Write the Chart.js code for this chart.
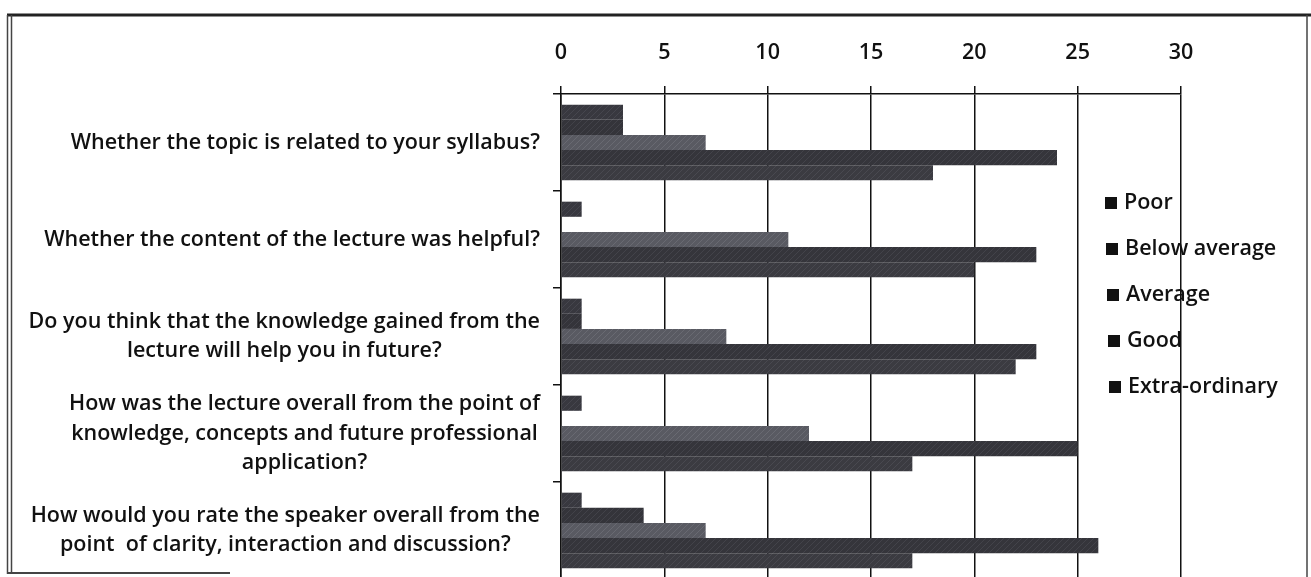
<!DOCTYPE html>
<html><head><meta charset="utf-8">
<script src="https://cdn.jsdelivr.net/npm/chart.js@4"></script>
<style>
html,body{margin:0;padding:0;background:#fff;overflow:hidden;width:1311px;height:577px}
#wrap{position:relative;width:1311px;height:586px}
</style></head>
<body><div id="wrap"><canvas id="c"></canvas></div>
<script>
// ---- data ----
const categories = [
  ['Whether the topic is related to your syllabus?'],
  ['Whether the content of the lecture was helpful?'],
  ['Do you think that the knowledge gained from the', 'lecture will help you in future?'],
  ['How was the lecture overall from the point of', 'knowledge, concepts and future professional', 'application?'],
  ['How would you rate the speaker overall from the', 'point  of clarity, interaction and discussion?']
];
const seriesNames = ['Poor', 'Below average', 'Average', 'Good', 'Extra-ordinary'];
const poor          = [3, 1, 1, 1, 1];
const belowAverage  = [3, 0, 1, 0, 4];
const average       = [7, 11, 8, 12, 7];
const good          = [24, 23, 23, 25, 26];
const extraOrdinary = [18, 20, 22, 17, 17];
const xTicks = [0, 5, 10, 15, 20, 25, 30];

const FONT = "'Open Sans', 'Lato', sans-serif";
const WEIGHT = '600';
const FSIZE = 21.5;

function hatch(base, stripe) {
  const c = document.createElement('canvas');
  c.width = 6; c.height = 6;
  const g = c.getContext('2d');
  g.fillStyle = base; g.fillRect(0, 0, 6, 6);
  g.strokeStyle = stripe; g.lineWidth = 1;
  g.beginPath();
  g.moveTo(0, 6); g.lineTo(6, 0);
  g.moveTo(-3, 3); g.lineTo(3, -3);
  g.moveTo(3, 9); g.lineTo(9, 3);
  g.stroke();
  return g.createPattern(c, 'repeat');
}

const fills = [
  hatch('#38383f', '#46464e'),
  hatch('#34343a', '#424249'),
  hatch('#595a62', '#696a72'),
  hatch('#35353b', '#43434a'),
  hatch('#3b3b41', '#494950')
];
const values = [poor, belowAverage, average, good, extraOrdinary];

const frame = {
  id: 'frame',
  afterDraw(chart) {
    const ctx = chart.ctx;
    ctx.save();
    ctx.strokeStyle = '#222';
    ctx.lineWidth = 3;
    ctx.beginPath(); ctx.moveTo(7, 15); ctx.lineTo(1311, 15); ctx.stroke();
    ctx.lineWidth = 1.5;
    ctx.strokeStyle = '#444';
    ctx.beginPath(); ctx.moveTo(7.5, 15); ctx.lineTo(7.5, 574); ctx.stroke();
    ctx.beginPath(); ctx.moveTo(11.5, 15); ctx.lineTo(11.5, 572); ctx.stroke();
    ctx.beginPath(); ctx.moveTo(1307, 15); ctx.lineTo(1307, 577); ctx.stroke();
    ctx.lineWidth = 2;
    ctx.beginPath(); ctx.moveTo(7, 573); ctx.lineTo(230, 573); ctx.stroke();
    ctx.restore();
  }
};

const catLabels = {
  id: 'catLabels',
  afterDraw(chart) {
    const ctx = chart.ctx;
    const ys = chart.scales.y;
    ctx.save();
    ctx.font = WEIGHT + ' ' + FSIZE + 'px ' + FONT;
    ctx.fillStyle = '#111';
    ctx.textAlign = 'center';
    ctx.textBaseline = 'middle';
    const lh = 29.5;
    chart.data.labels.forEach((lines, i) => {
      const y = ys.getPixelForValue(i);
      const w = Math.max(...lines.map(l => ctx.measureText(l).width));
      const cx = 540 - w / 2;
      lines.forEach((l, j) => {
        ctx.fillText(l, cx, y + (j - (lines.length - 1) / 2) * lh);
      });
    });
    ctx.restore();
  }
};

const legendPlugin = {
  id: 'sideLegend',
  afterDraw(chart) {
    const ctx = chart.ctx;
    ctx.save();
    ctx.font = WEIGHT + ' ' + FSIZE + 'px ' + FONT;
    ctx.textBaseline = 'middle';
    ctx.textAlign = 'left';
    chart.data.datasets.forEach((ds, i) => {
      const y = 203 + i * 46;
      const x = 1105 + i * 1;
      ctx.fillStyle = '#111';
      ctx.fillRect(x, y - 6, 12, 12);
      ctx.fillText(ds.label, x + 19, y);
    });
    ctx.restore();
  }
};

new Chart(document.getElementById('c'), {
  type: 'bar',
  data: {
    labels: categories,
    datasets: seriesNames.map((n, i) => ({
      label: n,
      data: values[i],
      backgroundColor: fills[i],
      borderWidth: 0,
      categoryPercentage: 0.78,
      barPercentage: 1
    }))
  },
  options: {
    indexAxis: 'y',
    responsive: true,
    maintainAspectRatio: false,
    animation: false,
    devicePixelRatio: 1,
    layout: { padding: { top: 0, right: 130, bottom: 7, left: 0 } },
    plugins: { legend: { display: false }, tooltip: { enabled: false } },
    scales: {
      x: {
        position: 'top',
        min: 0, max: 30,
        afterBuildTicks: s => { s.ticks = xTicks.map(v => ({ value: v })); },
        afterFit: s => { s.height = 94; },
        ticks: { color: '#111', font: { family: FONT, size: FSIZE, weight: WEIGHT }, padding: 20 },
        grid: { color: '#111', lineWidth: 1.5, tickLength: 8, drawTicks: true },
        border: { color: '#111', width: 1.5 }
      },
      y: {
        afterFit: s => { s.width = 561; },
        ticks: { display: false },
        grid: { offset: true, drawOnChartArea: false, drawTicks: true, tickLength: 8, color: '#111', lineWidth: 1.5 },
        border: { color: '#111', width: 1.5 }
      }
    }
  },
  plugins: [frame, catLabels, legendPlugin]
});
</script>
</body></html>
